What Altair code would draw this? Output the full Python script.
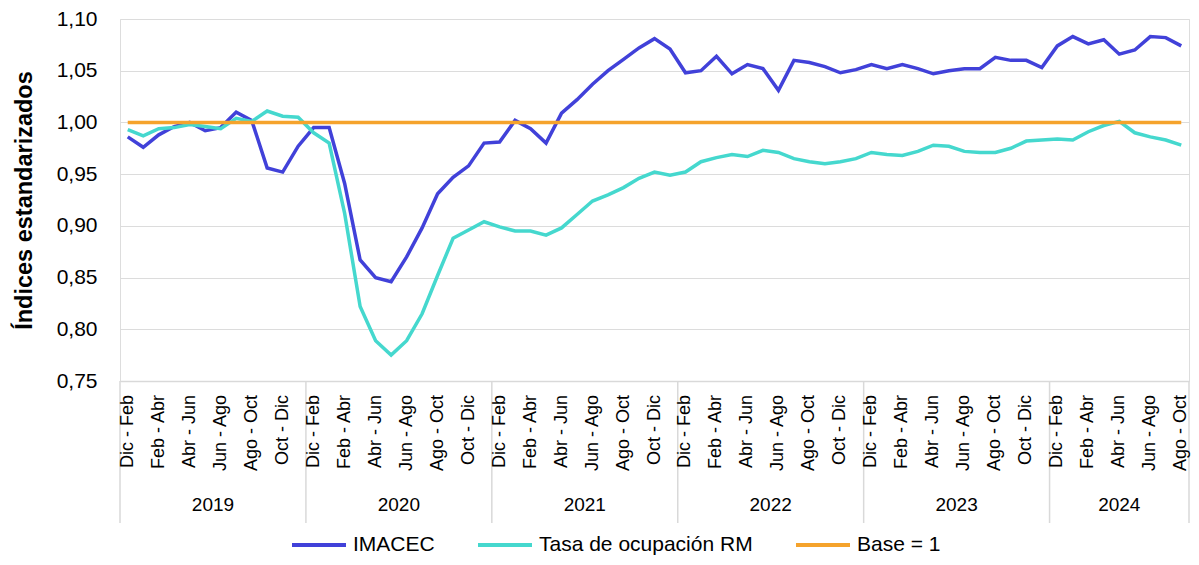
import altair as alt
import pandas as pd

months = ["Dic - Feb", "Ene - Mar", "Feb - Abr", "Mar - May", "Abr - Jun", "May - Jul",
          "Jun - Ago", "Jul - Sep", "Ago - Oct", "Sep - Nov", "Oct - Dic", "Nov - Ene"]
years = [2019, 2020, 2021, 2022, 2023, 2024]
periods_per_year = [12, 12, 12, 12, 12, 9]

imacec = [0.986, 0.976, 0.988, 0.996, 1.000, 0.992, 0.995, 1.010, 1.002, 0.956, 0.952, 0.977,
          0.995, 0.995, 0.941, 0.867, 0.850, 0.846, 0.870, 0.898, 0.931, 0.947, 0.958, 0.980,
          0.981, 1.002, 0.994, 0.980, 1.009, 1.022, 1.037, 1.050, 1.061, 1.072, 1.081, 1.071,
          1.048, 1.050, 1.064, 1.047, 1.056, 1.052, 1.031, 1.060, 1.058, 1.054, 1.048, 1.051,
          1.056, 1.052, 1.056, 1.052, 1.047, 1.050, 1.052, 1.052, 1.063, 1.060, 1.060, 1.053,
          1.074, 1.083, 1.076, 1.080, 1.066, 1.070, 1.083, 1.082, 1.074]

tasa = [0.993, 0.987, 0.994, 0.995, 0.998, 0.996, 0.994, 1.004, 1.001, 1.011, 1.006, 1.005,
        0.990, 0.980, 0.912, 0.822, 0.789, 0.775, 0.789, 0.815, 0.852, 0.888, 0.896, 0.904,
        0.899, 0.895, 0.895, 0.891, 0.898, 0.911, 0.924, 0.930, 0.937, 0.946, 0.952, 0.949,
        0.952, 0.962, 0.966, 0.969, 0.967, 0.973, 0.971, 0.965, 0.962, 0.960, 0.962, 0.965,
        0.971, 0.969, 0.968, 0.972, 0.978, 0.977, 0.972, 0.971, 0.971, 0.975, 0.982, 0.983,
        0.984, 0.983, 0.991, 0.997, 1.001, 0.990, 0.986, 0.983, 0.978]

base_value = 1.0
series_names = ["IMACEC", "Tasa de ocupación RM", "Base = 1"]
series_colors = ["#4141D9", "#45D8CE", "#F5A32C"]
y_ticks = [0.75, 0.80, 0.85, 0.90, 0.95, 1.00, 1.05, 1.10]

# ---- build tables ----
rows = []
year_rows = []
bounds = [-0.5]
idx = 0
for yr, n in zip(years, periods_per_year):
    start = idx
    for m in range(n):
        rows.append({"i": idx, "year": yr, "periodo": months[m], "m": m})
        idx += 1
    year_rows.append({"mid": (start + idx - 1) / 2, "year": str(yr)})
    bounds.append(idx - 0.5)
n_total = idx

long_rows = []
for name, vals in zip(series_names, [imacec, tasa, [base_value] * n_total]):
    for r, v in zip(rows, vals):
        long_rows.append({**r, "serie": name, "valor": v})
df = pd.DataFrame(long_rows)
df_labels = pd.DataFrame([r for r in rows if r["m"] % 2 == 0])
df_years = pd.DataFrame(year_rows)
df_bounds = pd.DataFrame({"b": bounds})

W, H = 1069, 362
xdom = [-0.5, n_total - 0.5]
x_scale = alt.Scale(domain=xdom, nice=False, zero=False)

lines = alt.Chart(df).mark_line(strokeWidth=3.5).encode(
    x=alt.X("i:Q", scale=x_scale,
            axis=alt.Axis(labels=False, ticks=False, grid=False, domain=True,
                          domainColor="#d9d9d9", domainWidth=1.5, title=None)),
    y=alt.Y("valor:Q", scale=alt.Scale(domain=[0.75, 1.10], nice=False, zero=False),
            axis=alt.Axis(values=y_ticks,
                          labelExpr="replace(format(datum.value, '.2f'), '.', ',')",
                          labelFontSize=21, labelFont="Liberation Sans", labelColor="#000000",
                          labelPadding=23, ticks=False, domain=False, grid=True,
                          gridColor="#dcdcdc", gridWidth=1.2,
                          title="Índices estandarizados", titleFont="Liberation Sans",
                          titleFontSize=23.5, titleFontWeight="bold", titleColor="#000000",
                          titlePadding=20)),
    color=alt.Color("serie:N", sort=series_names,
                    scale=alt.Scale(domain=series_names, range=series_colors),
                    legend=alt.Legend(title=None, orient="none", direction="horizontal",
                                      legendX=170, legendY=497,
                                      symbolType="stroke", symbolSize=2916,
                                      symbolStrokeWidth=4, labelFontSize=21,
                                      labelFont="Liberation Sans", labelColor="#000000",
                                      labelOffset=5, columnPadding=35, padding=0,
                                      labelLimit=400)),
    order=alt.Order("i:Q"),
)

month_text = alt.Chart(df_labels).mark_text(fontSize=18, font="Liberation Sans",
                                            color="#000000", angle=270, align="right",
                                            baseline="middle").encode(
    x=alt.X("i:Q", scale=x_scale),
    y=alt.value(H + 14),
    text="periodo:N",
)

sep = alt.Chart(df_bounds).mark_rule(color="#d9d9d9", strokeWidth=1.5).encode(
    x=alt.X("b:Q", scale=x_scale),
    y=alt.value(H),
    y2=alt.value(H + 142),
)

year_text = alt.Chart(df_years).mark_text(fontSize=19, font="Liberation Sans",
                                          color="#000000", baseline="middle").encode(
    x=alt.X("mid:Q", scale=x_scale),
    y=alt.value(H + 124),
    text="year:N",
)

chart = alt.layer(lines, sep, month_text, year_text).properties(
    width=W, height=H,
    autosize=alt.AutoSizeParams(type="none"),
    padding={"left": 112, "top": 11, "right": 2, "bottom": 176},
).configure_view(stroke=None).configure(background="white")

chart.save("out.html", embed_options={"renderer": "svg", "actions": False})
